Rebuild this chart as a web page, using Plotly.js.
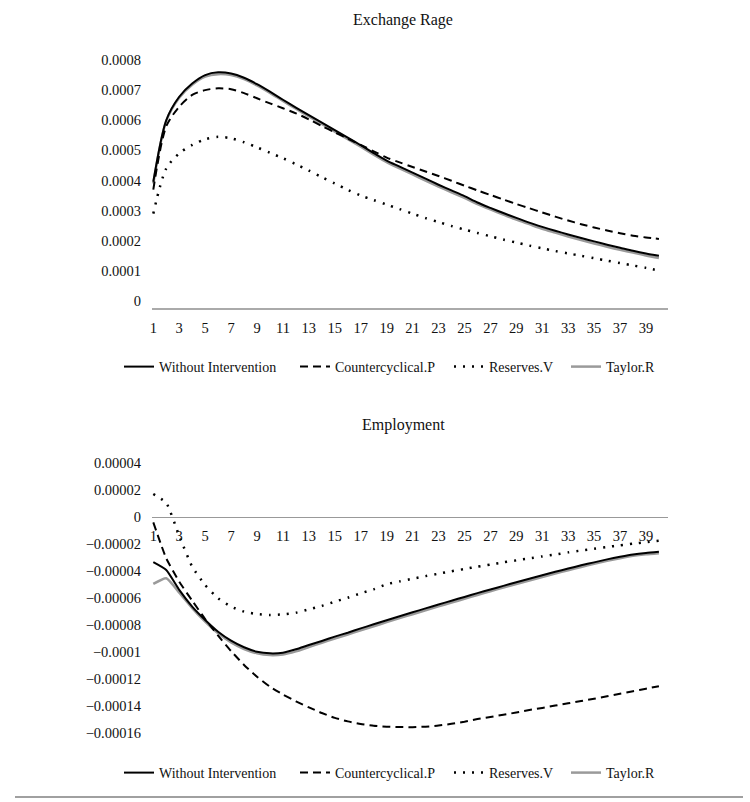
<!DOCTYPE html>
<html><head><meta charset="utf-8">
<script src="https://cdn.plot.ly/plotly-3.0.1.min.js"></script>
<style>body{margin:0;background:#fff}#chart{width:750px;height:802px}</style>
</head><body><div id="chart"></div>
<script>
const periods = [1,2,3,4,5,6,7,8,9,10,11,12,13,14,15,16,17,18,19,20,21,22,23,24,25,26,27,28,29,30,31,32,33,34,35,36,37,38,39,40];
const xTickVals = [1,3,5,7,9,11,13,15,17,19,21,23,25,27,29,31,33,35,37,39];
const seriesNames = ["Without Intervention","Countercyclical.P","Reserves.V","Taylor.R"];
const chartTitles = ["Exchange Rage","Employment"];

const exTickVals = [0,0.0001,0.0002,0.0003,0.0004,0.0005,0.0006,0.0007,0.0008];
const exTickText = ["0","0.0001","0.0002","0.0003","0.0004","0.0005","0.0006","0.0007","0.0008"];
const emTickVals = [-0.00016,-0.00014,-0.00012,-0.0001,-0.00008,-0.00006,-0.00004,-0.00002,0,0.00002,0.00004];
const emTickText = ["\u22120.00016","\u22120.00014","\u22120.00012","\u22120.0001","\u22120.00008","\u22120.00006","\u22120.00004","\u22120.00002","0","0.00002","0.00004"];

// Exchange rate
const exWithout = [0.000396,0.0006,0.000678,0.000722,0.00075,0.000759,0.000755,0.000741,0.00072,0.000695,0.000668,0.000642,0.000617,0.000592,0.000567,0.000542,0.000517,0.000491,0.000466,0.000446,0.000426,0.000406,0.000386,0.000367,0.000348,0.000327,0.000309,0.000292,0.000276,0.00026,0.000246,0.000233,0.000221,0.000209,0.000198,0.000187,0.000177,0.000167,0.000158,0.00015];
const exCounter = [0.00037,0.00058,0.000645,0.000684,0.0007,0.000706,0.000703,0.00069,0.000673,0.000656,0.00064,0.000623,0.000603,0.000581,0.00056,0.000539,0.000518,0.000497,0.000476,0.00046,0.000445,0.00043,0.000415,0.000399,0.000383,0.000367,0.000352,0.000337,0.000322,0.000308,0.000294,0.00028,0.000267,0.000255,0.000244,0.000234,0.000225,0.000217,0.000211,0.000206];
const exReserves = [0.00029,0.00044,0.00049,0.000518,0.000537,0.000545,0.00054,0.000527,0.00051,0.000492,0.000474,0.000454,0.000433,0.000411,0.00039,0.000369,0.00035,0.000335,0.00032,0.000305,0.00029,0.000275,0.000262,0.000249,0.000237,0.000226,0.000215,0.000204,0.000194,0.000184,0.000175,0.000166,0.000158,0.00015,0.000142,0.000134,0.000126,0.000118,0.00011,0.000101];
const exTaylor = [0.00039,0.000598,0.000675,0.000718,0.000745,0.000753,0.00075,0.000737,0.000716,0.000691,0.000664,0.000638,0.000613,0.000588,0.000562,0.000537,0.000512,0.000486,0.000461,0.00044,0.00042,0.0004,0.00038,0.000361,0.000342,0.000322,0.000304,0.000287,0.00027,0.000255,0.00024,0.000227,0.000214,0.000202,0.000191,0.00018,0.00017,0.000161,0.000151,0.000143];

// Employment
const emWithout = [-0.0000335,-0.0000393,-0.000054,-0.0000664,-0.0000763,-0.000085,-0.0000916,-0.0000965,-0.0000998,-0.000101,-0.0001005,-0.000098,-0.0000948,-0.0000918,-0.0000886,-0.0000857,-0.0000825,-0.0000795,-0.0000765,-0.0000735,-0.0000706,-0.0000677,-0.0000648,-0.000062,-0.0000592,-0.0000564,-0.0000537,-0.000051,-0.0000483,-0.0000457,-0.0000431,-0.0000406,-0.0000382,-0.0000358,-0.0000336,-0.0000314,-0.0000295,-0.0000278,-0.0000266,-0.0000258];
const emCounter = [-0.000004,-0.0000306,-0.0000479,-0.000062,-0.0000756,-0.0000879,-0.0000993,-0.0001096,-0.0001183,-0.0001257,-0.0001315,-0.0001365,-0.000141,-0.0001452,-0.0001488,-0.0001514,-0.0001533,-0.0001546,-0.0001553,-0.0001556,-0.0001557,-0.0001553,-0.0001545,-0.0001532,-0.0001516,-0.0001497,-0.0001481,-0.0001465,-0.0001448,-0.000143,-0.0001414,-0.0001397,-0.000138,-0.0001363,-0.0001346,-0.0001328,-0.0001309,-0.0001291,-0.0001272,-0.0001253];
const emReserves = [0.000017,0.0000104,-0.000014,-0.0000368,-0.0000504,-0.0000602,-0.0000664,-0.0000701,-0.0000719,-0.0000726,-0.0000721,-0.0000709,-0.0000684,-0.0000659,-0.0000627,-0.0000598,-0.0000565,-0.0000536,-0.0000498,-0.0000477,-0.0000457,-0.0000438,-0.000042,-0.0000402,-0.0000385,-0.0000368,-0.0000352,-0.0000336,-0.0000321,-0.0000306,-0.0000292,-0.0000278,-0.0000262,-0.0000248,-0.0000235,-0.0000222,-0.000021,-0.0000198,-0.0000186,-0.0000175];
const emTaylor = [-0.0000496,-0.0000454,-0.000056,-0.0000675,-0.0000775,-0.0000862,-0.0000929,-0.0000978,-0.000101,-0.0001023,-0.0001018,-0.0000995,-0.0000963,-0.0000932,-0.00009,-0.0000871,-0.0000839,-0.0000809,-0.0000779,-0.0000749,-0.000072,-0.0000691,-0.0000662,-0.0000634,-0.0000606,-0.0000578,-0.000055,-0.0000523,-0.0000496,-0.000047,-0.0000444,-0.0000419,-0.0000394,-0.000037,-0.0000347,-0.0000325,-0.0000305,-0.0000288,-0.0000276,-0.0000268];

const FONT = "Liberation Serif, Times New Roman, serif";
const styles = [
  {color:"#000000", width:2, dash:"solid", lw:131},
  {color:"#000000", width:2, dash:"8px,5px", lw:109},
  {color:"#000000", width:2.5, dash:"2px,7px", lw:72},
  {color:"#9a9a9a", width:2.5, dash:"solid", lw:60}
];

function makeTraces(data, xa, ya, leg, smooth) {
  const order = [3,1,2,0]; // draw gray first
  return order.map(i => ({
    type:"scatter", mode:"lines", x:periods, y:data[i], name:seriesNames[i],
    xaxis:xa, yaxis:ya, legend:leg, legendrank:i+1, legendwidth:styles[i].lw,
    line:{color:styles[i].color, width:styles[i].width, dash:styles[i].dash, shape:"spline", smoothing:smooth},
    hoverinfo:"skip"
  }));
}

const traces = [
  ...makeTraces([exWithout,exCounter,exReserves,exTaylor],"x","y","legend",0.8),
  ...makeTraces([emWithout,emCounter,emReserves,emTaylor],"x2","y2","legend2",0.5)
];

const H = 802, WID = 750;
const py = p => (H - p)/H;
const px = p => p/WID;
const tickFont = {family:FONT, size:14.5, color:"#111"};
const legFont = {family:FONT, size:14, color:"#111"};
const xDom = [px(152), px(668)];

const layout = {
  width:750, height:802,
  margin:{l:0, r:0, t:0, b:0, autoexpand:false},
  paper_bgcolor:"#fff", plot_bgcolor:"#fff",
  font:{family:FONT},
  showlegend:true,
  xaxis:{domain:xDom, range:[0.9,40.7], anchor:"y", tickvals:xTickVals, ticks:"", showgrid:false, zeroline:false,
         showline:true, linecolor:"#aaaaaa", linewidth:2, tickfont:tickFont, ticklabelstandoff:6},
  yaxis:{domain:[py(308), py(60)], anchor:"x", range:[-0.0000232, 0.0008], tickvals:exTickVals, ticktext:exTickText, ticks:"",
         showgrid:false, zeroline:false, showline:false, tickfont:tickFont, ticklabelstandoff:10},
  xaxis2:{domain:xDom, range:[0.9,40.7], anchor:"free", position:py(517), tickvals:xTickVals, ticks:"",
          showgrid:false, zeroline:false, showline:true, linecolor:"#999999", linewidth:1.2, tickfont:tickFont, ticklabelstandoff:5},
  yaxis2:{domain:[py(733), py(463)], anchor:"x2", range:[-0.00016, 0.00004], tickvals:emTickVals, ticktext:emTickText, ticks:"",
          showgrid:false, zeroline:false, showline:false, tickfont:tickFont, ticklabelstandoff:10},
  legend:{orientation:"h", x:px(119), xanchor:"left", y:py(367), yanchor:"middle",
          font:legFont, traceorder:"normal", itemwidth:30, bgcolor:"rgba(0,0,0,0)"},
  legend2:{orientation:"h", x:px(119), xanchor:"left", y:py(773), yanchor:"middle",
          font:legFont, traceorder:"normal", itemwidth:30, bgcolor:"rgba(0,0,0,0)"},
  annotations:[
    {text:chartTitles[0], xref:"paper", yref:"paper", x:px(403), y:py(20), xanchor:"center", yanchor:"middle", showarrow:false,
     font:{family:FONT, size:16, color:"#111"}},
    {text:chartTitles[1], xref:"paper", yref:"paper", x:px(403), y:py(425), xanchor:"center", yanchor:"middle", showarrow:false,
     font:{family:FONT, size:16, color:"#111"}}
  ],
  shapes:[
    {type:"line", xref:"paper", yref:"paper", x0:px(15), x1:px(743), y0:py(797), y1:py(797),
     line:{color:"#808080", width:1.5}}
  ]
};

Plotly.newPlot("chart", traces, layout, {staticPlot:true, displayModeBar:false});
</script>
</body></html>
